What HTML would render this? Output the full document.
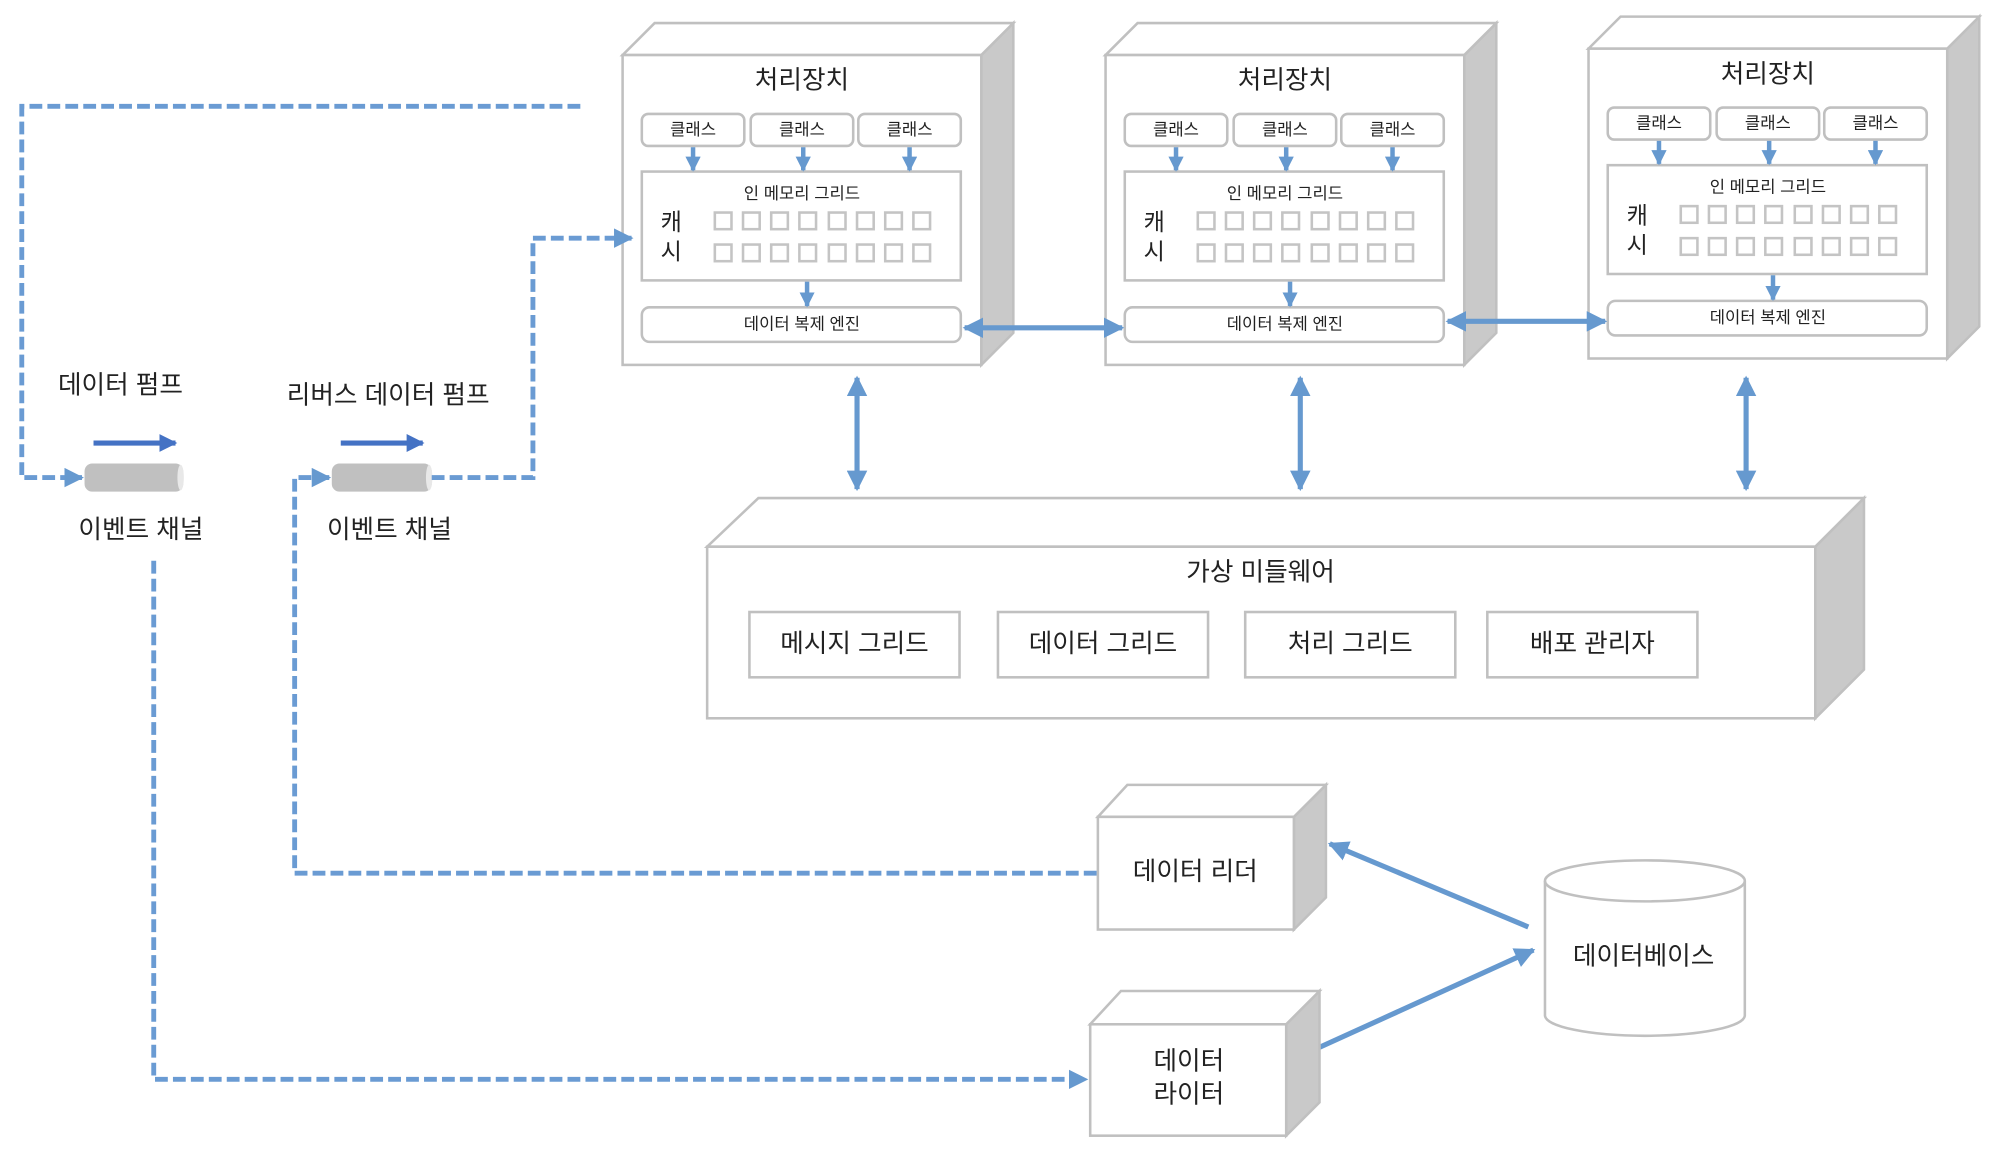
<!DOCTYPE html>
<html><head><meta charset="utf-8"><style>
html,body{margin:0;padding:0;background:#fff;}
svg{display:block;}
text{font-family:"Liberation Sans","Noto Sans CJK KR",sans-serif;fill:#222;text-anchor:middle;dominant-baseline:middle;}
</style></head><body>
<svg width="2010" height="1160" viewBox="0 0 1569 906" preserveAspectRatio="none" xmlns="http://www.w3.org/2000/svg">
<defs>
<marker id="ah" viewBox="0 0 10 10" refX="9" refY="5" markerWidth="4" markerHeight="4" orient="auto-start-reverse"><path d="M0,0 L10,5 L0,10 z" fill="#6699cf"/></marker>
<marker id="ah2" viewBox="0 0 10 10" refX="9" refY="5" markerWidth="3.4" markerHeight="3.4" orient="auto"><path d="M0,0 L10,5 L0,10 z" fill="#6699cf"/></marker>
<marker id="ahd" viewBox="0 0 10 10" refX="9" refY="5" markerWidth="3.5" markerHeight="3.5" orient="auto"><path d="M0,0 L10,5 L0,10 z" fill="#4472c4"/></marker>
<g id="pu" stroke="#c0c0c0" stroke-width="2">
<polygon points="280,0 305,-25 305,217 280,242" fill="#c9c9c9"/>
<polygon points="0,0 25,-25 305,-25 280,0" fill="#fff"/>
<rect x="0" y="0" width="280" height="242" fill="#fff"/>
<rect x="15" y="46" width="80" height="25" rx="5" fill="#fff"/>
<rect x="100" y="46" width="80" height="25" rx="5" fill="#fff"/>
<rect x="184" y="46" width="80" height="25" rx="5" fill="#fff"/>
<rect x="15" y="91" width="249" height="85" fill="#fff"/>
<rect x="15" y="197" width="249" height="27" rx="6" fill="#fff"/>
<g fill="none" stroke="#c4c4c4" stroke-width="2">
<rect x="72" y="123" width="13" height="13"/><rect x="94" y="123" width="13" height="13"/><rect x="116" y="123" width="13" height="13"/><rect x="138" y="123" width="13" height="13"/><rect x="161" y="123" width="13" height="13"/><rect x="183" y="123" width="13" height="13"/><rect x="205" y="123" width="13" height="13"/><rect x="227" y="123" width="13" height="13"/>
<rect x="72" y="148" width="13" height="13"/><rect x="94" y="148" width="13" height="13"/><rect x="116" y="148" width="13" height="13"/><rect x="138" y="148" width="13" height="13"/><rect x="161" y="148" width="13" height="13"/><rect x="183" y="148" width="13" height="13"/><rect x="205" y="148" width="13" height="13"/><rect x="227" y="148" width="13" height="13"/>
</g>
<g stroke="#6699cf" stroke-width="3.5" fill="none">
<line x1="55" y1="72" x2="55" y2="90" marker-end="url(#ah2)"/>
<line x1="141" y1="72" x2="141" y2="90" marker-end="url(#ah2)"/>
<line x1="224" y1="72" x2="224" y2="90" marker-end="url(#ah2)"/>
<line x1="144" y1="177" x2="144" y2="196" marker-end="url(#ah2)"/>
</g>
</g>
</defs>

<use href="#pu" x="486" y="43"/>
<use href="#pu" x="863" y="43"/>
<use href="#pu" x="1240" y="38"/>

<g font-size="20"><text x="626" y="64">처리장치</text><text x="1003" y="64">처리장치</text><text x="1380" y="59">처리장치</text></g>
<g font-size="13">
<text x="541" y="102">클래스</text><text x="626" y="102">클래스</text><text x="710" y="102">클래스</text>
<text x="918" y="102">클래스</text><text x="1003" y="102">클래스</text><text x="1087" y="102">클래스</text>
<text x="1295" y="97">클래스</text><text x="1380" y="97">클래스</text><text x="1464" y="97">클래스</text>
<text x="626" y="152">인 메모리 그리드</text><text x="1003" y="152">인 메모리 그리드</text><text x="1380" y="147">인 메모리 그리드</text>
<text x="626" y="254">데이터 복제 엔진</text><text x="1003" y="254">데이터 복제 엔진</text><text x="1380" y="249">데이터 복제 엔진</text>
</g>
<g font-size="18">
<text x="524" y="175">캐</text><text x="524" y="198">시</text>
<text x="901" y="175">캐</text><text x="901" y="198">시</text>
<text x="1278" y="170">캐</text><text x="1278" y="193">시</text>
</g>

<g stroke="#6699cf" stroke-width="4" fill="none">
<line x1="753" y1="256" x2="876" y2="256" marker-start="url(#ah)" marker-end="url(#ah)"/>
<line x1="1130" y1="251" x2="1253" y2="251" marker-start="url(#ah)" marker-end="url(#ah)"/>
<line x1="669" y1="295" x2="669" y2="382" marker-start="url(#ah)" marker-end="url(#ah)"/>
<line x1="1015" y1="295" x2="1015" y2="382" marker-start="url(#ah)" marker-end="url(#ah)"/>
<line x1="1363" y1="295" x2="1363" y2="382" marker-start="url(#ah)" marker-end="url(#ah)"/>
<line x1="1193" y1="724" x2="1038" y2="659" marker-end="url(#ah)"/>
<line x1="1030" y1="818" x2="1197" y2="742" marker-end="url(#ah)"/>
</g>

<g stroke="#c0c0c0" stroke-width="2">
<polygon points="1417,427 1455,389 1455,523 1417,561" fill="#c9c9c9"/>
<polygon points="552,427 592,389 1455,389 1417,427" fill="#fff"/>
<rect x="552" y="427" width="865" height="134" fill="#fff"/>
<rect x="585" y="478" width="164" height="51" fill="#fff"/>
<rect x="779" y="478" width="164" height="51" fill="#fff"/>
<rect x="972" y="478" width="164" height="51" fill="#fff"/>
<rect x="1161" y="478" width="164" height="51" fill="#fff"/>
</g>
<g font-size="20">
<text x="984" y="448">가상 미들웨어</text>
<text x="667" y="504">메시지 그리드</text>
<text x="861" y="504">데이터 그리드</text>
<text x="1054" y="504">처리 그리드</text>
<text x="1243" y="504">배포 관리자</text>
</g>

<g stroke="#c0c0c0" stroke-width="2">
<polygon points="1010,638 1035,613 1035,701 1010,726" fill="#c9c9c9"/>
<polygon points="857,638 880,613 1035,613 1010,638" fill="#fff"/>
<rect x="857" y="638" width="153" height="88" fill="#fff"/>
<polygon points="1004,800 1030,774 1030,861 1004,887" fill="#c9c9c9"/>
<polygon points="851,800 875,774 1030,774 1004,800" fill="#fff"/>
<rect x="851" y="800" width="153" height="87" fill="#fff"/>
<path d="M1206,688 L1206,793 A78,16 0 0 0 1362,793 L1362,688" fill="#fff"/>
<ellipse cx="1284" cy="688" rx="78" ry="16" fill="#fff"/>
</g>
<g font-size="20">
<text x="933" y="682">데이터 리더</text>
<text x="928" y="830">데이터</text>
<text x="928" y="856">라이터</text>
<text x="1283" y="748">데이터베이스</text>
<text x="94" y="302">데이터 펌프</text>
<text x="303" y="310">리버스 데이터 펌프</text>
<text x="110" y="415">이벤트 채널</text>
<text x="304" y="415">이벤트 채널</text>
</g>

<g>
<rect x="66" y="362" width="77" height="22" rx="6" fill="#c0c0c0"/>
<ellipse cx="141" cy="373" rx="2.5" ry="10" fill="#e8e8e8"/>
<rect x="259" y="362" width="78" height="22" rx="6" fill="#c0c0c0"/>
<ellipse cx="335" cy="373" rx="2.5" ry="10" fill="#e8e8e8"/>
</g>
<g stroke="#4472c4" stroke-width="4">
<line x1="73" y1="346" x2="137" y2="346" marker-end="url(#ahd)"/>
<line x1="266" y1="346" x2="330" y2="346" marker-end="url(#ahd)"/>
</g>

<g stroke="#6a9bd3" stroke-width="3.8" fill="none" stroke-dasharray="10,4">
<polyline points="453,83 17,83 17,373 64,373" marker-end="url(#ah)"/>
<polyline points="337,373 416,373 416,186 493,186" marker-end="url(#ah)"/>
<polyline points="120,438 120,843 848,843" marker-end="url(#ah)"/>
<polyline points="856,682 230,682 230,373 257,373" marker-end="url(#ah)"/>
</g>
</svg>
</body></html>
